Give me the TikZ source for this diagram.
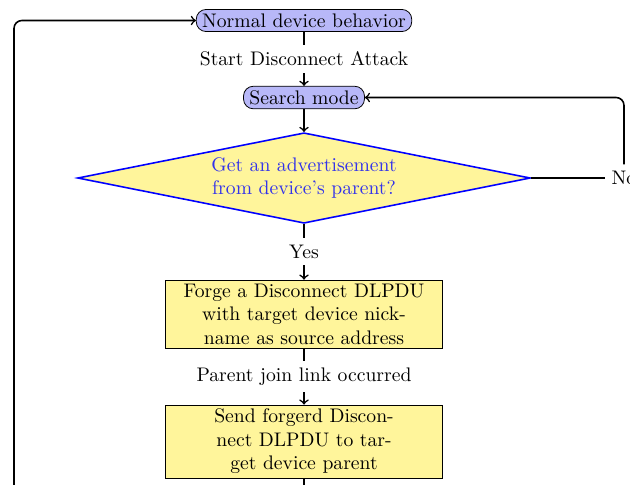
\documentclass[tikz,border=0pt]{standalone}
\usepackage{amsmath}
\usepackage{tikz}
\usetikzlibrary{shapes.geometric}

\definecolor{boxyellow}{RGB}{255,245,155}
\definecolor{roundblue}{RGB}{184,184,248}
\definecolor{asktext}{RGB}{50,50,235}

\tikzset{
  roundnode/.style={draw, rounded corners=5pt, fill=roundblue, inner xsep=3pt, inner ysep=2.1pt},
  decide/.style={diamond, draw=blue, thick, fill=boxyellow, text=asktext, aspect=5, inner sep=2.6pt, align=center},
  actbox/.style={draw, fill=boxyellow, align=center, minimum width=141pt, minimum height=34.6pt, inner ysep=0.5pt},
  edgelab/.style={fill=white},
  flowline/.style={thick, ->},
}

\begin{document}
\begin{tikzpicture}[x=0.509pt, y=-0.509pt]
\useasboundingbox (0,0) rectangle (630,484);

\node[roundnode] (normal) at (304,20.5) {Normal device behavior};
\node[roundnode] (search) at (304,97.5) {Search mode};
\node[decide] (dec) at (304,178) {Get an advertisement\\from device's parent?};
\node[actbox] (forge) at (304,314) {Forge a Disconnect DLPDU\\with target device nick-\\name as source address};
\node[actbox, minimum height=37.2pt] (send) at (304,441.5) {Send forgerd Discon-\\nect DLPDU to tar-\\get device parent};
\node (no) at (624,178) {No};

\coordinate (down) at (304,530);
\coordinate (back) at (14,530);

\draw[flowline] (normal) -- node[edgelab] {Start Disconnect Attack} (search);
\draw[flowline] (search) -- (dec);
\draw[flowline] (dec) -- node[edgelab] {Yes} (forge);
\draw[flowline] (forge) -- node[edgelab] {Parent join link occurred} (send);
\draw[thick] (dec.east) -- (no.west);
\draw[flowline, rounded corners=4pt] (no.north) |- (search.east);
\draw[thick] (send.south) -- (down);
\draw[flowline, rounded corners=4pt] (back) |- (normal.west);
\end{tikzpicture}
\end{document}
